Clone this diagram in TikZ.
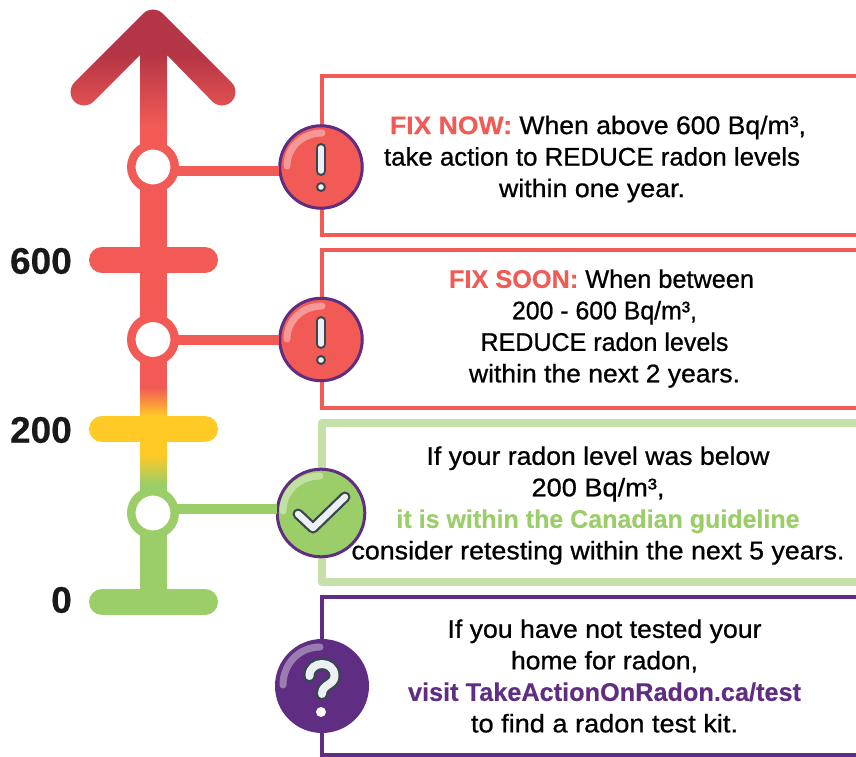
\documentclass[tikz,border=0pt]{standalone}
\usepackage{fontspec}
\usepackage{graphicx}
\setmainfont{Liberation Sans}[FakeBold=0.8,BoldFont={Liberation Sans Bold},BoldFeatures={FakeBold=0.3}]
\definecolor{redc}{HTML}{F15A55}
\definecolor{darkc}{HTML}{B43545}
\definecolor{yellowc}{HTML}{FFC926}
\definecolor{greenc}{HTML}{9BCD68}
\definecolor{lgreenc}{HTML}{C5E0A8}
\definecolor{purplec}{HTML}{5F2D82}
\definecolor{markc}{HTML}{37474F}
\definecolor{paperc}{HTML}{ECF0F3}
\pgfdeclareverticalshading{headgrad}{100bp}{color(0bp)=(redc); color(29bp)=(redc); color(57bp)=(darkc); color(100bp)=(darkc)}
\tikzset{
  ring/.style={circle,draw=#1,fill=white,line width=8.5pt,inner sep=0pt,minimum size=43.5pt},
  icon/.style={circle,draw=purplec,fill=#1,line width=3pt,inner sep=0pt},
  link/.style={line width=10pt,draw=#1,shorten <=-2pt,shorten >=-1pt},
  bar/.style={line width=26pt,line cap=round,draw=#1},
  boxline/.style={line width=#1,line join=miter},
  gloss/.style={line width=7pt,line cap=round,draw=white,opacity=.38},
  para/.style={align=center,inner sep=0pt,text=black,font=\fontsize{25.5}{31.5}\selectfont},
  scale label/.style={anchor=east,inner sep=0pt,text=black!90,font=\fontsize{37}{37}\selectfont\bfseries}
}
\newcommand{\fitline}[2]{\resizebox{#1pt}{\height}{#2}}
\newcommand{\exclaim}[2]{%
  \draw[line width=10pt,line cap=round,draw=markc] (#1,#2-19) -- (#1,#2+4);
  \draw[line width=5.5pt,line cap=round,draw=paperc] (#1,#2-19) -- (#1,#2+4);
  \fill[markc] (#1,#2+20) circle (5pt);
  \fill[paperc] (#1,#2+20) circle (2.8pt);
}
\begin{document}
\begin{tikzpicture}[x=1pt,y=-1pt]
\useasboundingbox (0,0) rectangle (856,757);
% boxes
\draw[boxline=4pt,draw=redc] (856,76) -- (322,76) -- (322,235) -- (856,235);
\draw[boxline=4pt,draw=redc] (856,250) -- (322,250) -- (322,408) -- (856,408);
\draw[line width=8pt,draw=lgreenc,line join=round] (856,423) -- (322,423) -- (322,582) -- (856,582);
\draw[boxline=4pt,draw=purplec] (856,597) -- (322,597) -- (322,755) -- (856,755);
% shaft and arrow head
\shade[shading=headgrad]
  (143.45,13.45) .. controls (148.72,8.18) and (157.28,8.18) .. (162.55,13.45)
  -- (231.55,82.45) .. controls (236.82,87.72) and (236.82,96.28) .. (231.55,101.55)
  .. controls (226.28,106.82) and (217.72,106.82) .. (212.45,101.55)
  -- (167,55) -- (167,135) -- (140,135) -- (140,55)
  -- (93.55,101.55) .. controls (88.28,106.82) and (79.72,106.82) .. (74.45,101.55)
  .. controls (69.18,96.28) and (69.18,87.72) .. (74.45,82.45) -- cycle;
\fill[redc] (140,134.5) rectangle (167,388);
\shade[top color=redc,bottom color=yellowc] (140,387.5) rectangle (167,416);
\fill[yellowc] (140,415.5) rectangle (167,456);
\shade[top color=yellowc,bottom color=greenc] (140,455.5) rectangle (167,484);
\fill[greenc] (140,483.5) rectangle (167,602);
% bars
\draw[bar=redc] (102,260) -- (205,260);
\draw[bar=yellowc] (102,429) -- (205,429);
\draw[bar=greenc] (102,602) -- (205,602);
\node[scale label] (l600) at (72,261) {600};
\node[scale label] (l200) at (72,430) {200};
\node[scale label] (l0) at (72,600) {0};
% rings and icons
\node[ring=redc] (r1) at (153,167) {};
\node[ring=redc] (r2) at (153,339.5) {};
\node[ring=greenc] (r3) at (153,513) {};
\node[icon=redc,minimum size=82.5pt] (i1) at (321,167) {};
\node[icon=redc,minimum size=82.5pt] (i2) at (321,339.5) {};
\node[icon=greenc,minimum size=87.6pt] (i3) at (321,513) {};
\node[icon=purplec,minimum size=91pt] (i4) at (322,686) {};
\draw[link=redc] ([yshift=-4pt]r1.east) -- ([yshift=-4pt]i1.west);
\draw[link=redc] (r2.east) -- (i2.west);
\draw[link=greenc] ([yshift=4pt]r3.east) -- ([yshift=4pt]i3.west);
% gloss
\draw[gloss] (287,166) .. controls (287,147) and (303,133) .. (322,133);
\draw[gloss] (287,339) .. controls (287,320) and (303,306) .. (322,306);
\draw[gloss] (283,511) .. controls (283,491) and (300,476) .. (320,476);
\draw[gloss] (283,685) .. controls (283,664) and (299,647) .. (320,647);
% marks
\exclaim{321}{167}
\exclaim{321}{340}
\draw[line width=11pt,line cap=round,line join=round,draw=markc] (298,514) -- (313,528) -- (345,497);
\draw[line width=6.5pt,line cap=round,line join=round,draw=paperc] (298,514) -- (313,528) -- (345,497);
\draw[line width=12.5pt,line cap=round,line join=round,draw=markc]
  (309.5,676) .. controls (309.5,660) and (334.5,660) .. (334.5,676) .. controls (334.5,685) and (322,684) .. (322,694);
\draw[line width=8pt,line cap=round,line join=round,draw=paperc]
  (309.5,676) .. controls (309.5,660) and (334.5,660) .. (334.5,676) .. controls (334.5,685) and (322,684) .. (322,694);
\fill[white] (321,712) circle (5pt);
% texts
\node[para] (t1) at (592,159) {\hspace*{12pt}\fitline{416}{{\bfseries\textcolor{redc}{FIX NOW:}} When above 600 Bq/m³,}\\\fitline{416}{take action to REDUCE radon levels}\\\fitline{186}{within one year.}};
\node[para] (t2) at (604.5,328.5) {\fitline{305}{{\bfseries\textcolor{redc}{FIX SOON:}} When between}\hspace*{6pt}\\\fitline{185}{200 - 600 Bq/m³,}\\\fitline{248}{REDUCE radon levels}\\\fitline{271}{within the next 2 years.}};
\node[para] (t3) at (598,505.5) {\fitline{343}{If your radon level was below}\\\fitline{133}{200 Bq/m³,}\\\fitline{403}{{\bfseries\textcolor{greenc}{it is within the Canadian guideline}}}\\\fitline{493}{consider retesting within the next 5 years.}};
\node[para] (t4) at (604.5,676) {\fitline{314}{If you have not tested your}\\\fitline{187}{home for radon,}\\\fitline{393}{{\bfseries\textcolor{purplec}{visit TakeActionOnRadon.ca/test}}}\\\fitline{267}{to find a radon test kit.}};
\end{tikzpicture}
\end{document}
